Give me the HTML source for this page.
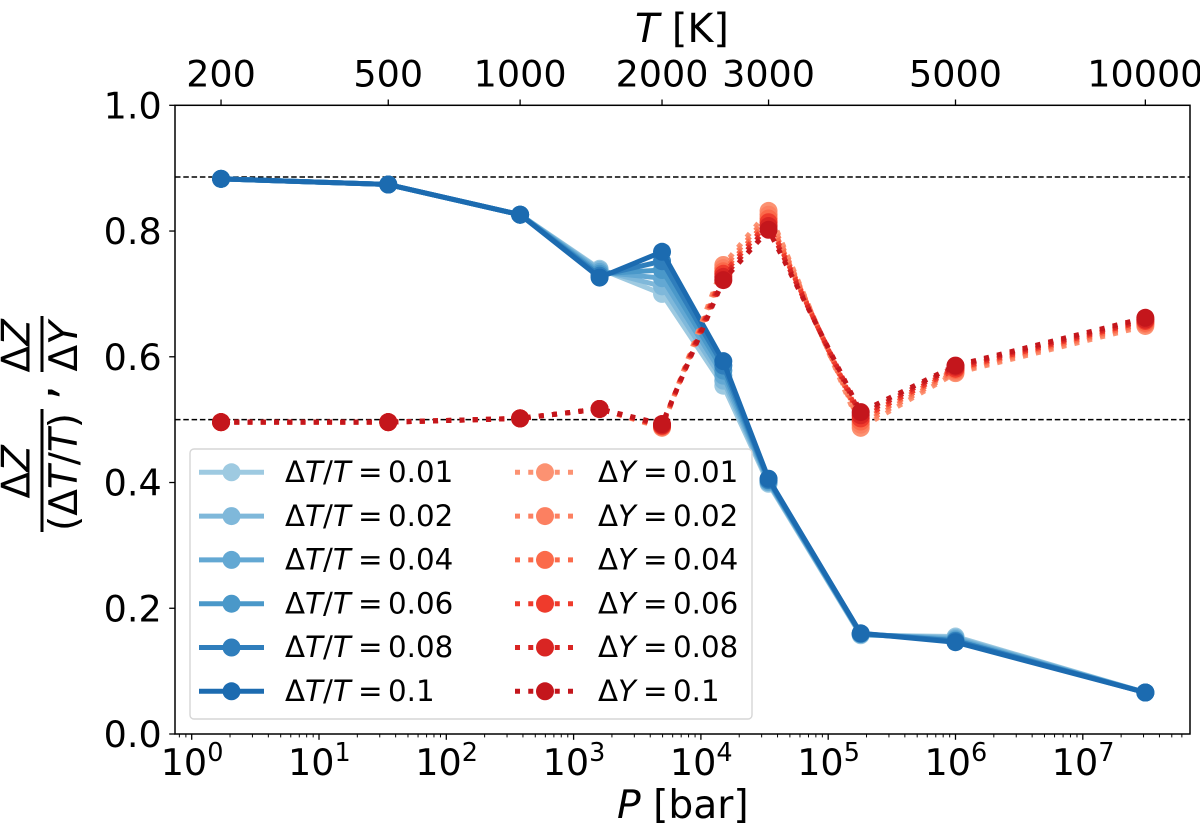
<!DOCTYPE html>
<html lang="en">
<head>
<meta charset="utf-8">
<title>Delta Z response versus pressure</title>
<style>
  html, body { margin: 0; padding: 0; background: #fff; }
  #chart { display: block; width: 1200px; height: 838px; }
  text { font-family: "DejaVu Sans", "Liberation Sans", sans-serif; fill: #000; }
  .it { font-style: italic; }
</style>
</head>
<body>
<svg id="chart" xmlns="http://www.w3.org/2000/svg" width="1200" height="838" viewBox="0 0 1200 838">
  <rect x="0" y="0" width="1200" height="838" fill="#ffffff"/>
  <g id="reference-lines"></g>
  <g id="series-layer"></g>
  <g id="legend"></g>
  <g id="axes-layer"></g>

  <text x="617" y="818" font-size="39.2"><tspan class="it">P</tspan> [bar]</text>
  <text x="635" y="42" font-size="39.7"><tspan class="it">T</tspan> [K]</text>

  <g>
    <text transform="translate(29.5,498.5) rotate(-90)" font-size="39">Δ<tspan class="it">Z</tspan></text>
    <rect x="40.5" y="409" width="3" height="123" fill="#000"/>
    <text transform="translate(77,531) rotate(-90)" font-size="39">(Δ<tspan class="it">T</tspan>/<tspan class="it">T</tspan>)</text>
    <text transform="translate(54,392.5) rotate(-90)" font-size="48" text-anchor="middle">,</text>
    <text transform="translate(29.5,372.5) rotate(-90)" font-size="39">Δ<tspan class="it">Z</tspan></text>
    <rect x="40.5" y="316" width="3" height="56" fill="#000"/>
    <text transform="translate(77,371.5) rotate(-90)" font-size="39">Δ<tspan class="it">Y</tspan></text>
  </g>
</svg>

<script>
// ---- data ----
const pressures = [1.7, 35, 380, 1600, 4950, 15000, 34000, 180000, 1000000, 31000000];

const deltaT001 = [0.883, 0.874, 0.826, 0.740, 0.700, 0.554, 0.398, 0.157, 0.155, 0.066];
const deltaT002 = [0.883, 0.874, 0.826, 0.738, 0.712, 0.562, 0.400, 0.158, 0.153, 0.066];
const deltaT004 = [0.883, 0.874, 0.826, 0.735, 0.725, 0.570, 0.401, 0.159, 0.151, 0.066];
const deltaT006 = [0.883, 0.874, 0.826, 0.732, 0.738, 0.578, 0.403, 0.159, 0.149, 0.066];
const deltaT008 = [0.883, 0.874, 0.826, 0.729, 0.752, 0.586, 0.404, 0.160, 0.148, 0.066];
const deltaT010 = [0.883, 0.874, 0.826, 0.726, 0.767, 0.593, 0.406, 0.160, 0.146, 0.066];

const deltaY001 = [0.496, 0.496, 0.502, 0.517, 0.487, 0.746, 0.832, 0.487, 0.574, 0.649];
const deltaY002 = [0.496, 0.496, 0.502, 0.517, 0.488, 0.741, 0.826, 0.492, 0.576, 0.652];
const deltaY004 = [0.496, 0.496, 0.502, 0.517, 0.489, 0.736, 0.820, 0.497, 0.579, 0.654];
const deltaY006 = [0.496, 0.496, 0.502, 0.517, 0.490, 0.732, 0.814, 0.502, 0.581, 0.657];
const deltaY008 = [0.496, 0.496, 0.502, 0.517, 0.491, 0.727, 0.808, 0.507, 0.584, 0.659];
const deltaY010 = [0.496, 0.496, 0.502, 0.517, 0.493, 0.722, 0.802, 0.512, 0.586, 0.662];

const temperatureSeries = [deltaT001, deltaT002, deltaT004, deltaT006, deltaT008, deltaT010];
const heliumSeries = [deltaY001, deltaY002, deltaY004, deltaY006, deltaY008, deltaY010];
const seriesLabels = ["0.01", "0.02", "0.04", "0.06", "0.08", "0.1"];
const seriesIds = ["001", "002", "004", "006", "008", "010"];
const blueColors = ["#9ecae1", "#7fb8da", "#63a8d3", "#4a98c9", "#2f7ebc", "#1c6bb0"];
const redColors = ["#fc9272", "#fc8061", "#fb6a4a", "#ef3b2c", "#d92523", "#c4161c"];

const referenceValues = [0.886, 0.5];
const yTicks = [0, 0.2, 0.4, 0.6, 0.8, 1.0];
const yTickLabels = ["0.0", "0.2", "0.4", "0.6", "0.8", "1.0"];
const xDecades = [0, 1, 2, 3, 4, 5, 6, 7];
const topTickPressures = [1.7, 35, 380, 4950, 34000, 1000000, 31000000];
const topTickLabels = ["200", "500", "1000", "2000", "3000", "5000", "10000"];

// ---- axis geometry ----
const plotLeft = 175, plotRight = 1190, plotTop = 105.3, plotBottom = 734;
const xDecadeOrigin = 191.7, xDecadeWidth = 127.3;
const xScale = p => xDecadeOrigin + Math.log10(p) * xDecadeWidth;
const yScale = v => plotBottom - v * (plotBottom - plotTop);

const NS = "http://www.w3.org/2000/svg";
function make(tag, attrs, parent, text) {
  const el = document.createElementNS(NS, tag);
  for (const k in attrs) el.setAttribute(k, attrs[k]);
  if (text !== undefined) el.textContent = text;
  parent.appendChild(el);
  return el;
}
const refLayer = document.getElementById("reference-lines");
const seriesLayer = document.getElementById("series-layer");
const legendLayer = document.getElementById("legend");
const axesLayer = document.getElementById("axes-layer");

// ---- reference lines ----
referenceValues.forEach(v => {
  const line = make("line", {x1: plotLeft, x2: plotRight, y1: yScale(v), y2: yScale(v), stroke: "#000", "stroke-width": 1.5, "stroke-dasharray": "5.5 2.8"}, refLayer);
  
  
});

// ---- series ----
// Dash phase at each vertex follows the top series so dots of all series stay stacked.
function dashPhases(values) {
  const phases = [0];
  for (let i = 1; i < values.length; i++) {
    const dx = xScale(pressures[i]) - xScale(pressures[i - 1]);
    const dy = yScale(values[i]) - yScale(values[i - 1]);
    phases.push(phases[i - 1] + Math.hypot(dx, dy));
  }
  return phases;
}
function drawSeries(values, color, phases, name) {
  const group = make("g", {}, seriesLayer);
  
  
  if (phases) {
    for (let i = 1; i < values.length; i++) {
      const seg = make("line", {
        x1: xScale(pressures[i - 1]), y1: yScale(values[i - 1]),
        x2: xScale(pressures[i]), y2: yScale(values[i]),
        stroke: color, "stroke-width": 5,
        "stroke-dasharray": "5 8.25", "stroke-dashoffset": phases[i - 1]
      }, group);
      
      
    }
  } else {
    const pts = values.map((v, i) => xScale(pressures[i]).toFixed(2) + "," + yScale(v).toFixed(2)).join(" ");
    const line = make("polyline", {points: pts, fill: "none", stroke: color, "stroke-width": 5, "stroke-linejoin": "round"}, group);
    
    
  }
  values.forEach((v, i) => {
    const point = make("circle", {cx: xScale(pressures[i]), cy: yScale(v), r: 9, fill: color}, group);
    
    
  });
}
temperatureSeries.forEach((vals, i) => drawSeries(vals, blueColors[i], null, "delta-t-series-" + seriesIds[i]));
const heliumPhases = dashPhases(heliumSeries[heliumSeries.length - 1]);
heliumSeries.forEach((vals, i) => drawSeries(vals, redColors[i], heliumPhases, "delta-y-series-" + seriesIds[i]));

// ---- legend ----
const legendBox = make("rect", {x: 190, y: 449, width: 562, height: 270, rx: 4, ry: 4, fill: "#fff", "fill-opacity": 0.8, stroke: "#d6d6d6", "stroke-width": 1.4}, legendLayer);


const legendRowStart = 472.3, legendRowStep = 43.8;
const legendFont = 29.3;

seriesLabels.forEach((label, i) => {
  const y = legendRowStart + i * legendRowStep;
  const entry = make("g", {}, legendLayer);
  
  
  make("line", {x1: 199, x2: 264, y1: y, y2: y, stroke: blueColors[i], "stroke-width": 5}, entry);
  make("circle", {cx: 231.5, cy: y, r: 9, fill: blueColors[i]}, entry);
  const t = make("text", {y: y + 9.7, "font-size": legendFont}, entry);
  make("tspan", {x: 285}, t, "Δ");
  make("tspan", {class: "it"}, t, "T");
  make("tspan", {}, t, "/");
  make("tspan", {class: "it"}, t, "T");
  make("tspan", {x: 358}, t, "=");
  make("tspan", {x: 388}, t, label);
});

seriesLabels.forEach((label, i) => {
  const y = legendRowStart + i * legendRowStep;
  const entry = make("g", {}, legendLayer);
  
  
  make("line", {x1: 515, x2: 575, y1: y, y2: y, stroke: redColors[i], "stroke-width": 5, "stroke-dasharray": "5 8.25"}, entry);
  make("circle", {cx: 545, cy: y, r: 9, fill: redColors[i]}, entry);
  const t = make("text", {y: y + 9.7, "font-size": legendFont}, entry);
  make("tspan", {x: 598}, t, "Δ");
  make("tspan", {class: "it"}, t, "Y");
  make("tspan", {x: 643}, t, "=");
  make("tspan", {x: 673}, t, label);
});

// ---- axes ----
const tickFont = 36.5, expFont = 25.5;
const spineStyle = {stroke: "#000", "stroke-width": 1.5, fill: "none"};
const frame = make("rect", Object.assign({x: plotLeft, y: plotTop, width: plotRight - plotLeft, height: plotBottom - plotTop}, spineStyle), axesLayer);



yTicks.forEach((v, i) => {
  const y = yScale(v);
  const tick = make("line", {x1: plotLeft - 5.8, x2: plotLeft, y1: y, y2: y, stroke: "#000", "stroke-width": 1.3}, axesLayer);
  
  
  const lab = make("text", {x: 161.7, y: y + 13, "font-size": tickFont, "text-anchor": "end"}, axesLayer, yTickLabels[i]);
  
  
});

xDecades.forEach(d => {
  const x = xScale(Math.pow(10, d));
  const tick = make("line", {x1: x, x2: x, y1: plotBottom, y2: plotBottom + 5.8, stroke: "#000", "stroke-width": 1.3}, axesLayer);
  
  
  const lab = make("text", {x: x - 31, y: 775, "font-size": tickFont}, axesLayer, "10");
  
  
  const exp = make("text", {x: x + 15.5, y: 761, "font-size": expFont}, axesLayer, String(d));
  
  
});

for (let d = -1; d <= 7; d++) {
  for (let m = 2; m <= 9; m++) {
    const x = xScale(m * Math.pow(10, d));
    if (x < plotLeft || x > plotRight) continue;
    const minor = make("line", {x1: x, x2: x, y1: plotBottom, y2: plotBottom + 3.4, stroke: "#000", "stroke-width": 1}, axesLayer);
    
    
  }
}

topTickPressures.forEach((p, i) => {
  const x = xScale(p);
  const tick = make("line", {x1: x, x2: x, y1: plotTop, y2: plotTop - 5.8, stroke: "#000", "stroke-width": 1.3}, axesLayer);
  
  
  const lab = make("text", {x: x, y: 86.5, "font-size": tickFont, "text-anchor": "middle"}, axesLayer, topTickLabels[i]);
  
  
});
</script>
</body>
</html>
